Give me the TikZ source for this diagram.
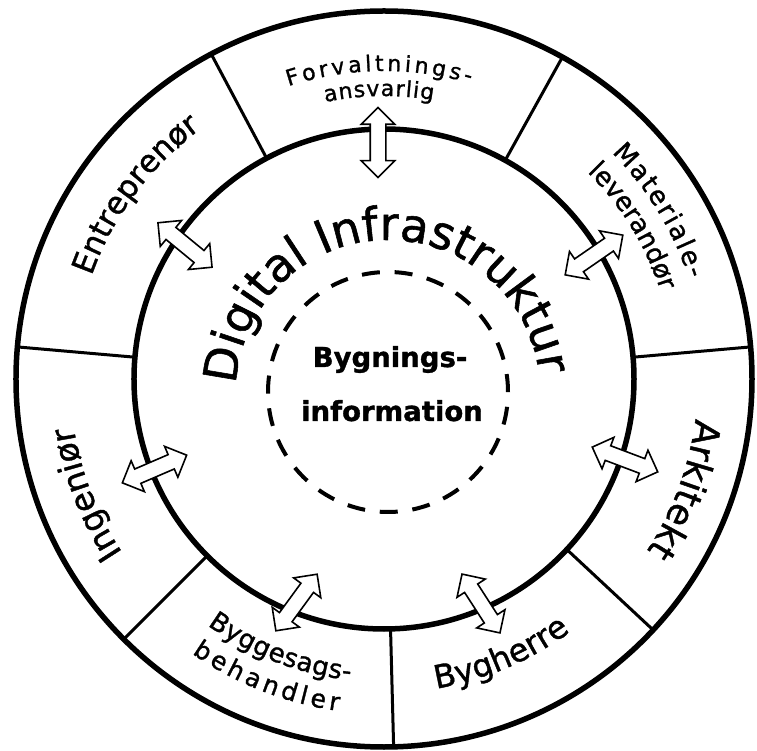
\documentclass[tikz,border=0pt]{standalone}
\usepackage{fontspec}
\setmainfont{DejaVu Sans}
\newfontfamily\rolefamily[FakeBold=1.2]{DejaVu Sans}
\usetikzlibrary{shapes.arrows,decorations.text}

\newcommand{\labelsize}[1]{\rolefamily\fontsize{#1}{#1}\selectfont}

\tikzset{
	ring/.style={line width=5.5pt},
	divider/.style={line width=3pt},
	core line/.style={line width=4pt, dash pattern=on 18pt off 14.78pt},
	link/.style={double arrow, draw, fill=white, line width=1.6pt,
		inner xsep=0pt, inner ysep=7pt, double arrow head extend=9pt,
		minimum height=70pt},
	arc text/.style 2 args={decorate, decoration={text along path,
		text align=center, text={|\labelsize{#1}|#2}}},
	spaced text/.style n args={3}{decorate, decoration={text effects along path,
		text={#3}, text align=center,
		text effects/.cd, text along path,
		characters={font=\labelsize{#1}, inner xsep=#2},
		character widths={font=\labelsize{#1}, inner xsep=#2}}}
}

\begin{document}
\begin{tikzpicture}[x=1pt,y=1pt]
		\useasboundingbox (-384,-372) rectangle (373,379);
		
		% Draw the two rings and the dashed core
		\draw[ring] (0,0) circle[radius=368pt];
		\draw[ring] (0,0) circle[radius=250pt];
		\coordinate (core) at (4,-13);
		\draw[core line] (core) circle[radius=120pt];
		
		% Draw the borders between the roles
		\foreach \a in {118,61,5,-43,-88.5,-135,175}
		\draw[divider] (\a:250pt) -- (\a:368pt);
		
		% Add arrows across the inner ring
		\node[link, rotate=90] (forvArrow) at (-6,236.5) {};
		\node[link, rotate=140.6] (entrArrow) at (-199,134) {};
		\node[link, rotate=34.6] (matArrow) at (210,124) {};
		\node[link, rotate=-20.7] (arkArrow) at (241,-80.5) {};
		\node[link, rotate=-57.2] (byghArrow) at (97,-224.5) {};
		\node[link, rotate=53.9] (bsagArrow) at (-87.5,-223.5) {};
		\node[link, rotate=23.3] (ingArrow) at (-229.5,-90) {};
		
		% Add the centre texts
		\path[arc text={46}{Digital Infrastruktur}] ([shift={(core)}]180:152pt) arc[start angle=180, end angle=3.6, radius=152pt];
		\node[font=\bfseries\labelsize{27.5}, anchor=base] (bygn) at (6,12) {Bygnings-};
		\node[font=\bfseries\labelsize{27.5}, anchor=base] (info) at (8,-42) {information};
		
		% Add the roles
		\path[arc text={31}{Entreprenør}] (183.4:310pt) arc[start angle=183.4, end angle=103.4, radius=310pt];
		\path[spaced text={22}{1.7pt}{Forvaltnings-}] (130.9:308pt) arc[start angle=130.9, end angle=50.9, radius=308pt];
		\path[spaced text={22}{0.5pt}{ansvarlig}] (131:283pt) arc[start angle=131, end angle=51, radius=283pt];
		\path[spaced text={26}{1pt}{Materiale-}] (71.5:321pt) arc[start angle=71.5, end angle=-8.5, radius=321pt];
		\path[arc text={26}{leverandør}] (71.6:290pt) arc[start angle=71.6, end angle=-8.4, radius=290pt];
		\path[arc text={36}{Arkitekt}] (19.8:314pt) arc[start angle=19.8, end angle=-60.2, radius=314pt];
		\path[arc text={32}{Bygherre}] (-107:314pt) arc[start angle=-107, end angle=-27, radius=314pt];
		\path[spaced text={26}{0.2pt}{Byggesags-}] (-151:303pt) arc[start angle=-151, end angle=-71, radius=303pt];
		\path[spaced text={25}{2pt}{behandler}] (-151.4:335pt) arc[start angle=-151.4, end angle=-71.4, radius=335pt];
		\path[arc text={33}{Ingeniør}] (241.2:314pt) arc[start angle=241.2, end angle=161.2, radius=314pt];
	\end{tikzpicture}
\end{document}
